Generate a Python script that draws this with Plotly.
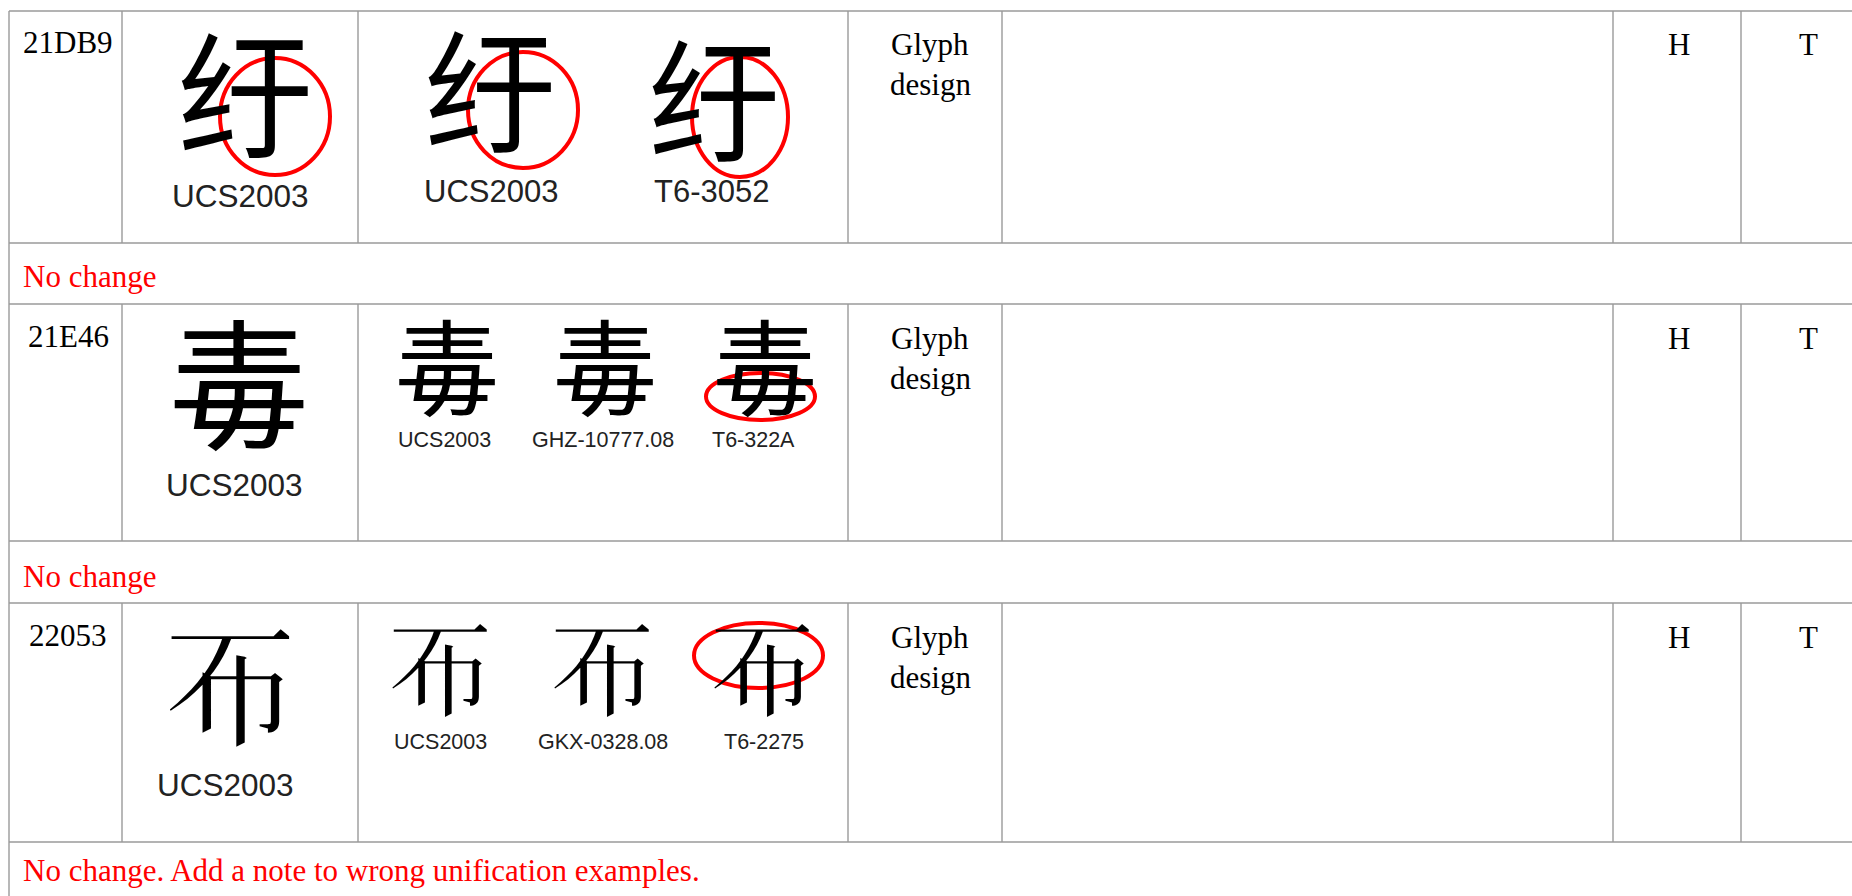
import plotly.graph_objects as go

# ---------------- content (data) ----------------
codes = ["21DB9", "21E46", "22053"]
# glyphs shown (BMP look-alikes where the installed fonts lack the Ext-B code point)
chars = ["纡", "毒", chr(0x22053)]
main_labels = ["UCS2003", "UCS2003", "UCS2003"]
evidence_labels = [
    ["UCS2003", "T6-3052"],
    ["UCS2003", "GHZ-10777.08", "T6-322A"],
    ["UCS2003", "GKX-0328.08", "T6-2275"],
]
categories = ["Glyph\ndesign", "Glyph\ndesign", "Glyph\ndesign"]
col_h = ["H", "H", "H"]
col_t = ["T", "T", "T"]
remarks = ["No change", "No change", "No change. Add a note to wrong unification examples."]

# ---------------- layout constants ----------------
W, H = 1852, 896
cols = [9, 122, 358, 848, 1002, 1613, 1741]
rows = [(11, 243), (304, 541), (603, 842)]
remark_y = [276, 576, 870]
code_y = [42, 336, 635]
code_x = 68
big_x = [245, 239, 230]
big_y = [88, 377, 680]
big_size = [136, 140, 134]
big_lab_y = [196, 485, 785]
ev_x = [[490, 714], [447, 605, 765], [440, 602, 762]]
ev_y = [[84, 93], [362, 362, 362], [664, 664, 664]]
ev_size = [132, 104, 106]
ev_lab_y = [191, 440, 742]
ev_lab_x = [[491, 711], [444, 603, 753], [440, 603, 764]]
ev_lab_size = [31, 21.5, 21.5]
big_lab_size = [31.5, 31.5, 31.5]
# red ellipses (x0, y0, x1, y1)
ellipses = [
    (220, 58, 330, 175),
    (468, 52, 578, 168),
    (692, 57, 788, 177),
    (706, 373, 815, 420),
    (694, 623, 823, 688),
]

LINE = "#9a9a9a"
SERIF = "Liberation Serif, Times New Roman, serif"
SANS = "Liberation Sans, Arial, sans-serif"
CJK = "Noto Sans CJK TC, Noto Sans CJK JP, Noto Sans CJK SC, sans-serif"

fig = go.Figure()
shapes = []
ann = []

def hline(y, x0=cols[0], x1=W + 5):
    shapes.append(dict(type="line", x0=x0, x1=x1, y0=y, y1=y, line=dict(color=LINE, width=1.6), layer="above"))

def vline(x, y0, y1):
    shapes.append(dict(type="line", x0=x, x1=x, y0=y0, y1=y1, line=dict(color=LINE, width=1.4), layer="above"))

for (t, b) in rows:
    hline(t)
    hline(b)
    for c in cols[1:]:
        vline(c, t, b)
vline(cols[0], rows[0][0], H + 5)

for (x0, y0, x1, y1) in ellipses:
    shapes.append(dict(type="circle", x0=x0, x1=x1, y0=y0, y1=y1, line=dict(color="#ff0000", width=4), layer="above"))

def text(x, y, s, size, family, color="#000000", xanchor="center"):
    ann.append(dict(x=x, y=y, text=s, showarrow=False, xanchor=xanchor, yanchor="middle",
                    font=dict(size=size, family=family, color=color), xref="x", yref="y"))

for i in range(3):
    text(code_x, code_y[i], codes[i], 31, SERIF)
    text(big_x[i], big_y[i], chars[i], big_size[i], CJK)
    text(big_x[i] - 5, big_lab_y[i], main_labels[i], big_lab_size[i], SANS, "#222222")
    for j, lab in enumerate(evidence_labels[i]):
        text(ev_x[i][j], ev_y[i][j], chars[i], ev_size[i], CJK)
        text(ev_lab_x[i][j], ev_lab_y[i], lab, ev_lab_size[i], SANS, "#222222")
    cat = categories[i].split("\n")
    text(930, code_y[i] + 2, cat[0], 31, SERIF)
    text(930, code_y[i] + 42, cat[1], 31, SERIF)
    text(1679, code_y[i] + 2, col_h[i], 31, SERIF)
    text(1808, code_y[i] + 2, col_t[i], 31, SERIF)
    text(21, remark_y[i], remarks[i], 31, SERIF, "#ff0000", xanchor="left")

fig.update_layout(
    width=W, height=H,
    margin=dict(l=0, r=0, t=0, b=0),
    paper_bgcolor="white", plot_bgcolor="white",
    xaxis=dict(range=[0, W], visible=False, fixedrange=True),
    yaxis=dict(range=[H, 0], visible=False, fixedrange=True),
    shapes=shapes, annotations=ann, showlegend=False,
)
fig.write_html(
    "out.html",
    config={"displayModeBar": False},
    post_script="document.body.style.margin='0';document.body.style.overflow='hidden';",
)
